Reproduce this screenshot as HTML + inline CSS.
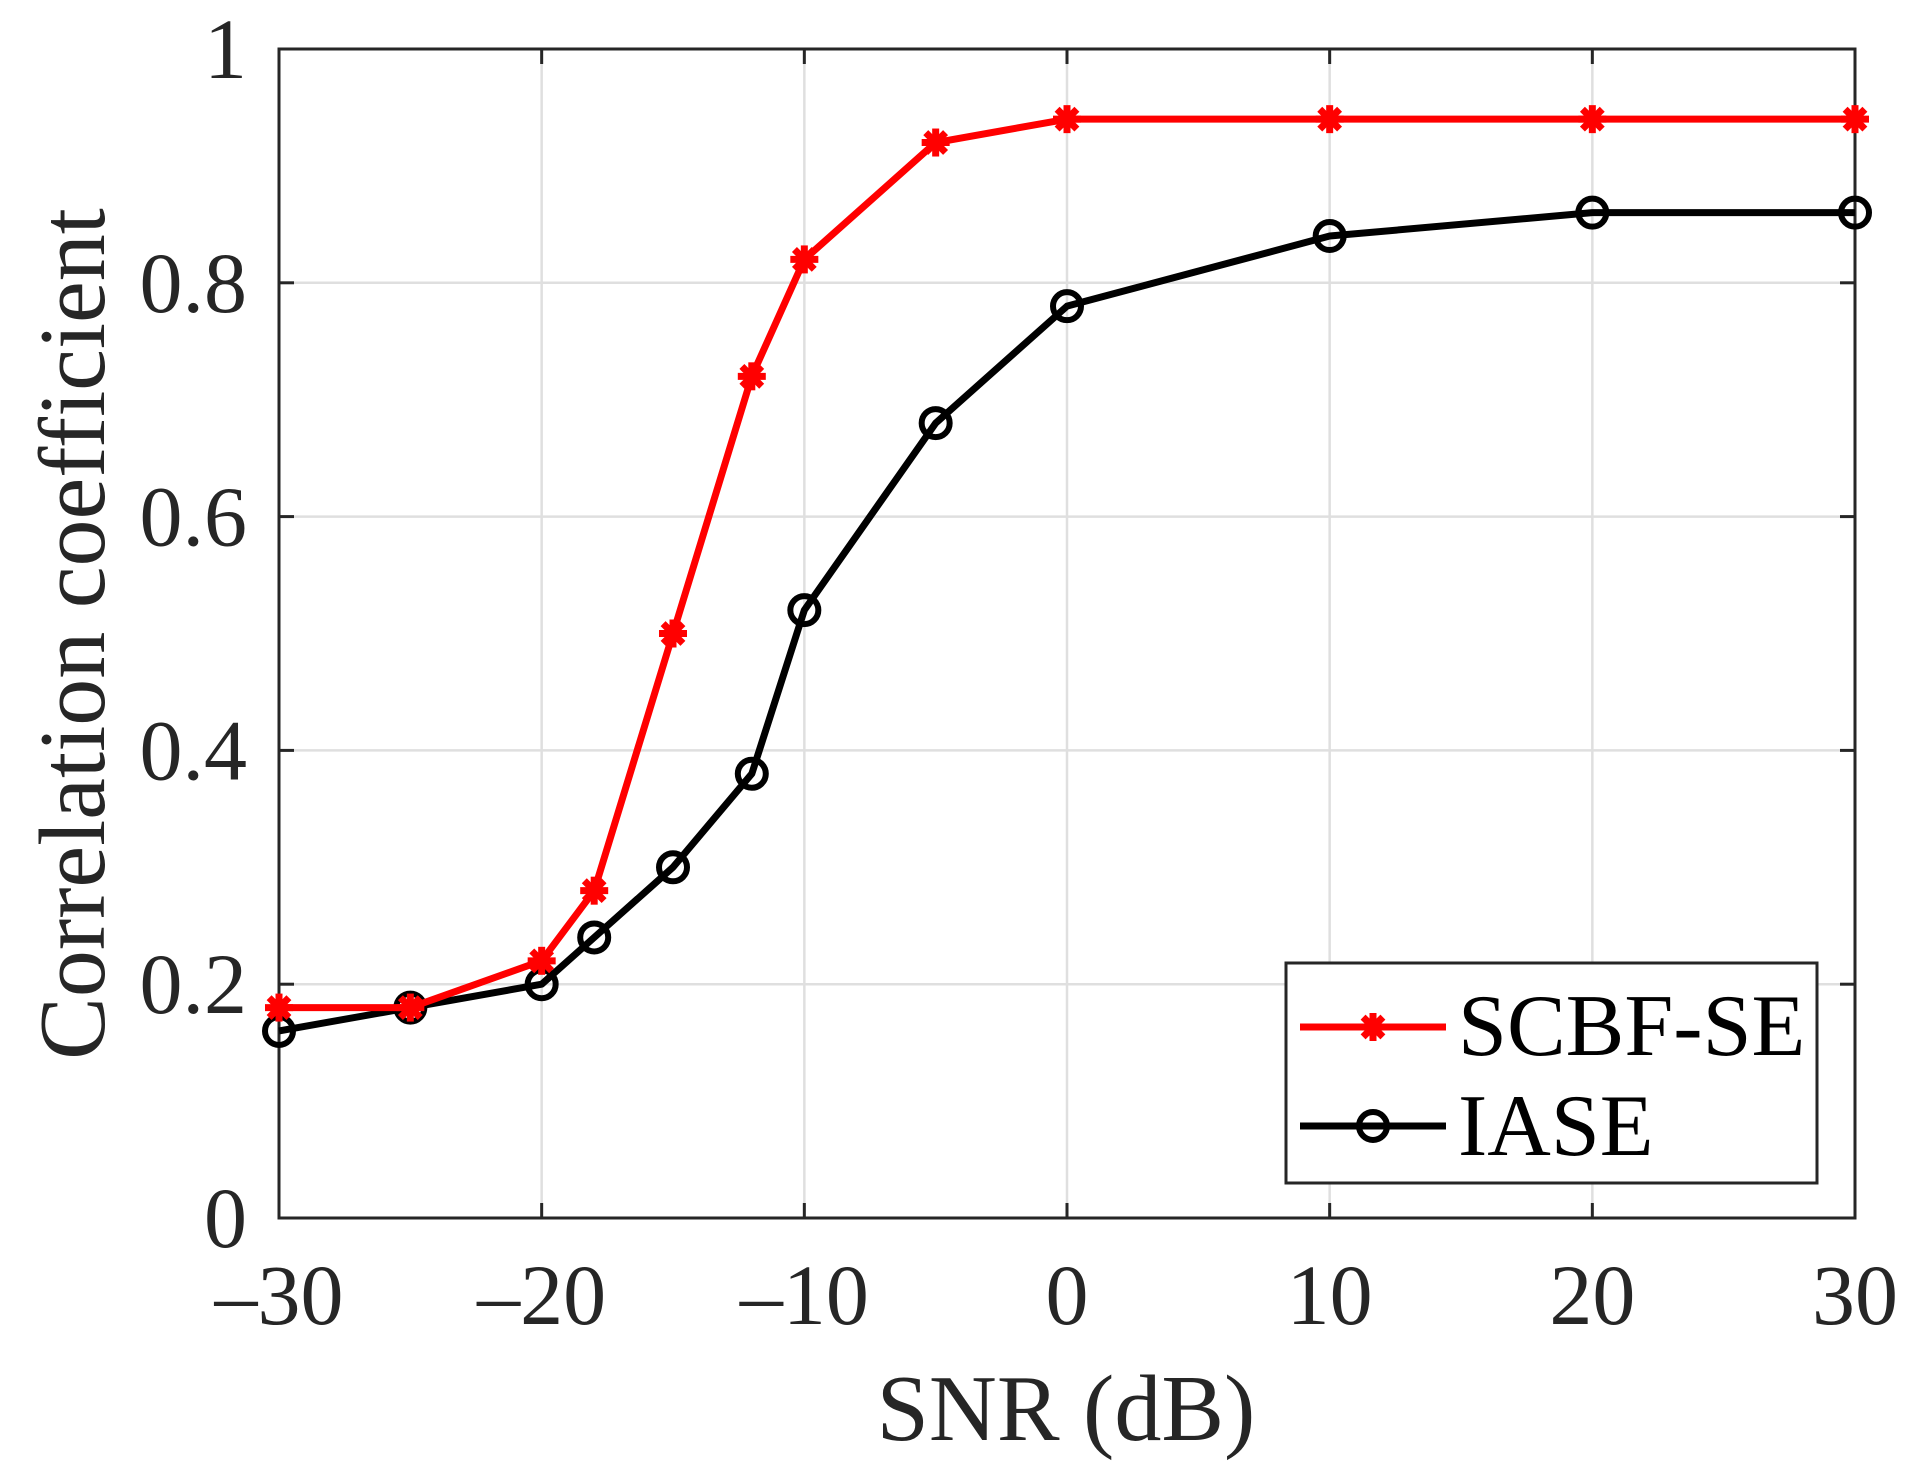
<!DOCTYPE html>
<html><head><meta charset="utf-8"><style>
html,body{margin:0;padding:0;background:#fff;}
svg{display:block;}
text{font-family:"Liberation Serif","Times New Roman",serif;fill:#262626;}
</style></head><body>
<svg id="s" width="1922" height="1477" viewBox="0 0 1922 1477" xmlns="http://www.w3.org/2000/svg"></svg>
<script>
const s=document.getElementById('s');
const X=v=>279+(v+30)/60*1576, Y=v=>1218-v*1169;
let h='';
[-20,-10,0,10,20].forEach(v=>h+=`<line x1="${X(v)}" y1="49" x2="${X(v)}" y2="1218" stroke="#dfdfdf" stroke-width="2.5"/>`);
[0.2,0.4,0.6,0.8].forEach(v=>h+=`<line x1="279" y1="${Y(v)}" x2="1855" y2="${Y(v)}" stroke="#dfdfdf" stroke-width="2.5"/>`);
[-20,-10,0,10,20].forEach(v=>{h+=`<line x1="${X(v)}" y1="1218" x2="${X(v)}" y2="1203" stroke="#262626" stroke-width="3"/><line x1="${X(v)}" y1="49" x2="${X(v)}" y2="64" stroke="#262626" stroke-width="3"/>`;});
[0.2,0.4,0.6,0.8].forEach(v=>{h+=`<line x1="279" y1="${Y(v)}" x2="294" y2="${Y(v)}" stroke="#262626" stroke-width="3"/><line x1="1855" y1="${Y(v)}" x2="1840" y2="${Y(v)}" stroke="#262626" stroke-width="3"/>`;});
h+=`<rect x="279" y="49" width="1576" height="1169" fill="none" stroke="#262626" stroke-width="3"/>`;
[-30,-20,-10,0,10,20,30].forEach(v=>h+=`<text x="${X(v)}" y="1324" font-size="86" text-anchor="middle">${v<0?'\u2013'+(-v):v}</text>`);
[[0,'0'],[0.2,'0.2'],[0.4,'0.4'],[0.6,'0.6'],[0.8,'0.8'],[1,'1']].forEach(([v,t])=>h+=`<text x="247" y="${Y(v)+29}" font-size="86" text-anchor="end">${t}</text>`);
h+=`<text x="1066" y="1440" font-size="94" text-anchor="middle">SNR (dB)</text>`;
h+=`<text transform="translate(104,634) rotate(-90)" font-size="94" text-anchor="middle">Correlation coefficient</text>`;
const xs=[-30,-25,-20,-18,-15,-12,-10,-5,0,10,20,30];
const a=[0.18,0.18,0.22,0.28,0.5,0.72,0.82,0.92,0.94,0.94,0.94,0.94];
const b=[0.16,0.18,0.2,0.24,0.3,0.38,0.52,0.68,0.78,0.84,0.86,0.86];
const star=(x,y)=>{let r=14,o='';for(let k=0;k<4;k++){const t=k*Math.PI/4;o+=`<line x1="${x-r*Math.sin(t)}" y1="${y-r*Math.cos(t)}" x2="${x+r*Math.sin(t)}" y2="${y+r*Math.cos(t)}" stroke="#f00" stroke-width="7"/>`;}return o;};
const circ=(x,y)=>`<circle cx="${x}" cy="${y}" r="14" fill="none" stroke="#000" stroke-width="6"/>`;
h+=`<polyline points="${xs.map((v,i)=>X(v)+','+Y(b[i])).join(' ')}" fill="none" stroke="#000" stroke-width="7" stroke-linejoin="round"/>`;
xs.forEach((v,i)=>h+=circ(X(v),Y(b[i])));
h+=`<polyline points="${xs.map((v,i)=>X(v)+','+Y(a[i])).join(' ')}" fill="none" stroke="#f00" stroke-width="7" stroke-linejoin="round"/>`;
xs.forEach((v,i)=>h+=star(X(v),Y(a[i])));
h+=`<rect x="1286" y="963" width="531" height="220" fill="#fff" stroke="#262626" stroke-width="3"/>`;
h+=`<line x1="1300" y1="1027" x2="1446" y2="1027" stroke="#f00" stroke-width="7"/>`+star(1373,1027);
h+=`<line x1="1300" y1="1126" x2="1446" y2="1126" stroke="#000" stroke-width="7"/>`+circ(1373,1126);
h+=`<text x="1458" y="1055" font-size="88" style="fill:#000">SCBF-SE</text>`;
h+=`<text x="1458" y="1155" font-size="88" style="fill:#000">IASE</text>`;
s.innerHTML=h;
</script>
</body></html>
